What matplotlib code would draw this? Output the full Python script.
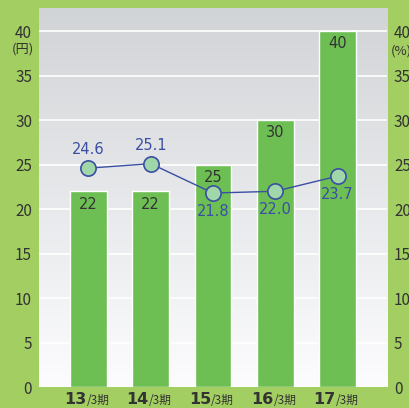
import matplotlib
matplotlib.use('Agg')
import matplotlib.pyplot as plt
import numpy as np

plt.rcParams['font.family'] = ['Noto Sans CJK JP', 'DejaVu Sans']

# Data
years = ['13', '14', '15', '16', '17']
suffix = '/3期'
dividends = [22, 22, 25, 30, 40]          # 円
payout = [24.6, 25.1, 21.8, 22.0, 23.7]   # %
payout_above = [True, True, False, False, False]
yticks = [0, 5, 10, 15, 20, 25, 30, 35, 40]

bg_green = '#a3cf62'
bar_green = '#6dbf54'
line_blue = '#3a4ea3'
marker_fill = '#9fd7a9'
text_dark = '#333333'
narrow = ['Liberation Sans Narrow', 'DejaVu Sans']

fig = plt.figure(figsize=(4.09, 4.08), dpi=100, facecolor=bg_green)
ax = fig.add_axes([39/409, 21/408, 348/409, 379/408])

x = np.arange(len(years))
xlim = (-0.795, len(years) - 1 + 0.795)
ymax = 42.6

# gradient background (gray top -> white bottom)
grad = np.linspace(0, 1, 256)[:, None, None]
top = np.array([0.82, 0.83, 0.84])
bot = np.array([0.99, 0.99, 1.0])
img = bot * (1 - grad) + top * grad
ax.imshow(img, extent=[xlim[0], xlim[1], 0, ymax], origin='lower',
          aspect='auto', zorder=0)
ax.set_xlim(*xlim)
ax.set_ylim(0, ymax)

for t in yticks[1:]:
    ax.axhline(t, color='white', lw=1.2, zorder=1)

ax.bar(x, dividends, width=0.59, color=bar_green, edgecolor='white',
       linewidth=1.0, zorder=2)
for xi, v in zip(x, dividends):
    ax.text(xi, v - 0.6, f'{v}', ha='center', va='top', fontsize=10.5,
            color=text_dark, family=narrow, zorder=5)

ax.plot(x, payout, color=line_blue, lw=1.0, zorder=3)
ax.plot(x, payout, 'o', ms=11, mfc=marker_fill, mec=line_blue, mew=1.2, zorder=4)
for xi, v, up in zip(x, payout, payout_above):
    if up:
        ax.text(xi, v + 1.2, f'{v:.1f}', ha='center', va='bottom', fontsize=10.5,
                color=line_blue, family=narrow, zorder=5)
    else:
        ax.text(xi, v - 1.2, f'{v:.1f}', ha='center', va='top', fontsize=10.5,
                color=line_blue, family=narrow, zorder=5)

for s in ax.spines.values():
    s.set_visible(False)
ax.set_xticks([])
ax.set_yticks(yticks)
ax.set_yticklabels([str(t) for t in yticks], fontsize=11, color=text_dark)
ax.tick_params(axis='y', length=0, pad=5)

# x labels: big year + small suffix
for xi, yr in zip(x, years):
    ax.text(xi - 0.03, -1.95, yr, ha='right', va='baseline', fontsize=11.5,
            color=text_dark, family=narrow, fontweight='bold', clip_on=False)
    ax.text(xi - 0.03, -1.95, suffix, ha='left', va='baseline', fontsize=8.5,
            color=text_dark, clip_on=False)

# unit labels
ax.text(-0.015, 38.0, '(円)', transform=ax.get_yaxis_transform(), ha='right',
        va='center', fontsize=9.5, color=text_dark)

ax2 = ax.twinx()
ax2.set_ylim(0, ymax)
ax2.set_yticks(yticks)
ax2.set_yticklabels([str(t) for t in yticks], fontsize=11, color=text_dark)
ax2.tick_params(axis='y', length=0, pad=5)
for s in ax2.spines.values():
    s.set_visible(False)
ax2.text(1.012, 37.8, '(%)', transform=ax2.get_yaxis_transform(), ha='left',
         va='center', fontsize=9.5, color=text_dark)

fig.savefig('out.png', dpi=100, facecolor=bg_green)
